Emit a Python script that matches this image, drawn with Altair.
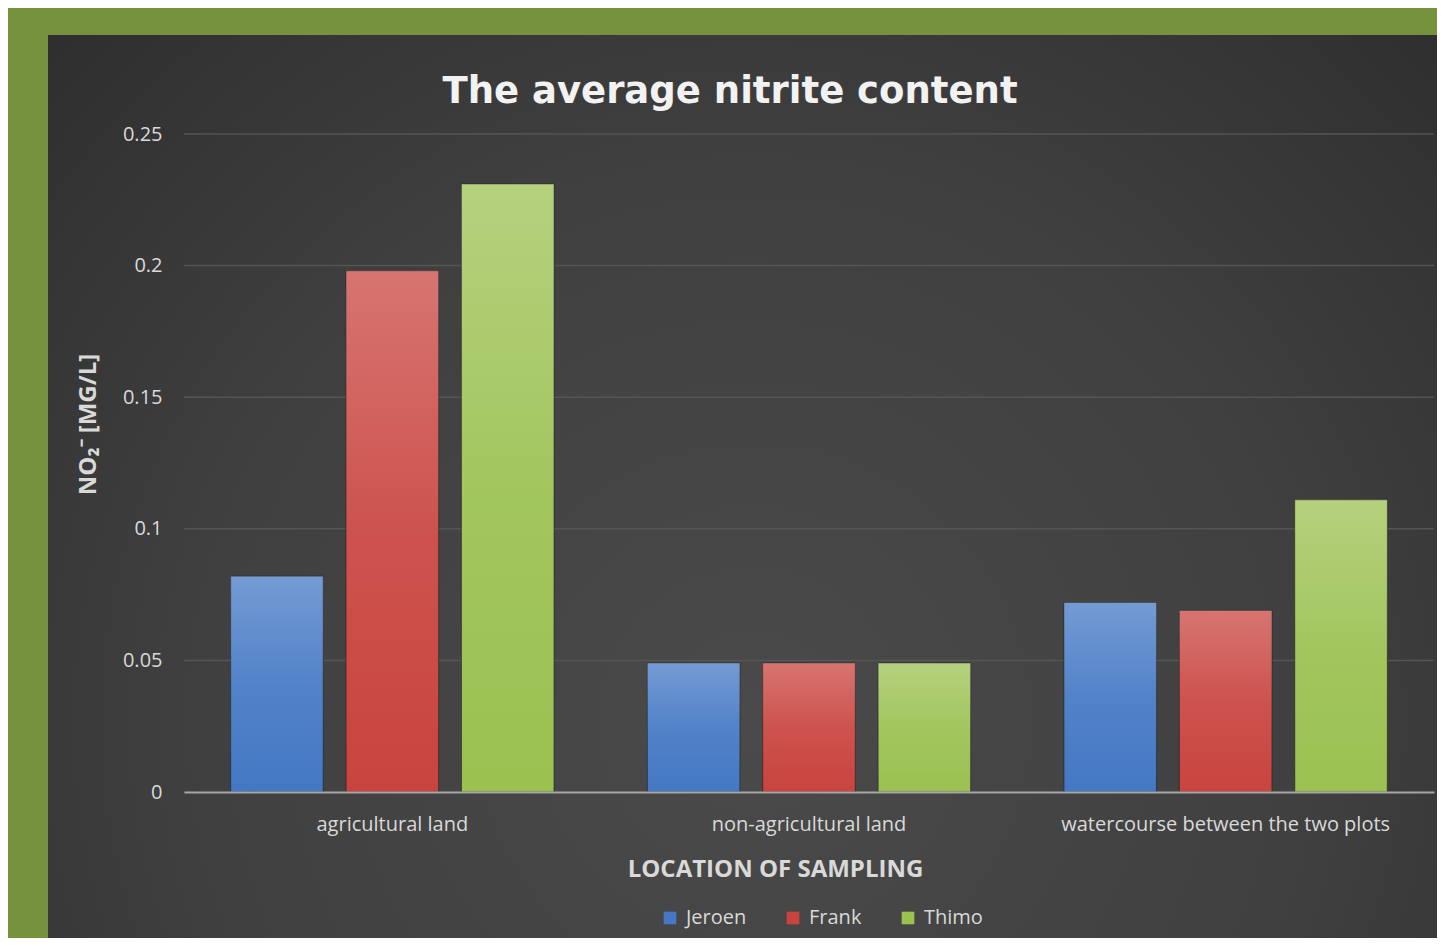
import altair as alt
import pandas as pd

# ---- data ----
categories = ["agricultural land", "non-agricultural land", "watercourse between the two plots"]
series = ["Jeroen", "Frank", "Thimo"]
jeroen = [0.082, 0.049, 0.072]
frank = [0.198, 0.049, 0.069]
thimo = [0.231, 0.049, 0.111]
y_ticks = [0, 0.05, 0.1, 0.15, 0.2, 0.25]
grid_ticks = [0.05, 0.1, 0.15, 0.2, 0.25]
colors = ["#4478c4", "#c9443f", "#9bc151"]

rows = []
for i, c in enumerate(categories):
    for s, vals in zip(series, [jeroen, frank, thimo]):
        rows.append({"location": c, "person": s, "value": vals[i]})
df = pd.DataFrame(rows)
grid_df = pd.DataFrame({"value": grid_ticks})

W, H = 1250, 658
PAD = {"left": 176, "top": 126, "right": 3, "bottom": 146}

LABEL = "#d9d9d9"
FONT = "Open Sans"

y_enc = alt.Y(
    "value:Q",
    scale=alt.Scale(domain=[0, 0.25], nice=False),
    axis=alt.Axis(
        values=y_ticks, format="~g", grid=False, ticks=False, domain=False,
        labelFont=FONT, labelFontSize=20, labelColor=LABEL, labelPadding=22,
        title="NO₂⁻ [MG/L]", titleFont=FONT, titleFontSize=24, titleFontWeight="bold",
        titleColor=LABEL, titleAngle=-90, titleX=-96, titleY=290,
        titleAlign="center", titleBaseline="middle", zindex=1,
    ),
)
x_enc = alt.X(
    "location:N", sort=categories,
    scale=alt.Scale(paddingInner=0.224, paddingOuter=0.112),
    axis=alt.Axis(
        labelAngle=0, ticks=False, grid=False, domainColor="#a6a6a6", domainWidth=2,
        labelFont=FONT, labelFontSize=20, labelColor=LABEL, labelPadding=22, labelLimit=600,
        title="LOCATION OF SAMPLING", titleFont=FONT, titleFontSize=24,
        titleFontWeight="bold", titleColor=LABEL, titleX=591, titleY=77,
        titleAlign="center", titleBaseline="middle", zindex=1,
    ),
)
xo_enc = alt.XOffset("person:N", sort=series, scale=alt.Scale(paddingInner=0.198, paddingOuter=0))

panel = alt.Chart(alt.Data(values=[{}])).mark_rect(
    color={
        "gradient": "radial", "x1": 0.5, "y1": 0.66, "r1": 0,
        "x2": 0.5, "y2": 0.66, "r2": 0.78,
        "stops": [
            {"offset": 0, "color": "#4a4a4a"},
            {"offset": 0.5, "color": "#404040"},
            {"offset": 1, "color": "#2a2a2a"},
        ],
    }
).encode(
    x=alt.value(-136), x2=alt.value(W + PAD["right"] + 20),
    y=alt.value(-99), y2=alt.value(H + PAD["bottom"] + 20),
)

grid = alt.Chart(grid_df).mark_rule(color="#555555", strokeWidth=1.5).encode(
    y=y_enc, x=alt.value(0), x2=alt.value(W)
)

bars = alt.Chart(df).mark_bar(stroke="#1e1e1e", strokeWidth=1, strokeOpacity=0.6).encode(
    x=x_enc, xOffset=xo_enc, y=y_enc,
    color=alt.Color(
        "person:N", sort=series,
        scale=alt.Scale(domain=series, range=colors),
        legend=alt.Legend(
            orient="none", legendX=476, legendY=774, direction="horizontal", title=None,
            symbolType="square", symbolSize=160, symbolStrokeWidth=0, symbolOpacity=1,
            labelFont=FONT, labelFontSize=20, labelColor=LABEL, labelOffset=6,
            columnPadding=36,
        ),
    ),
)

shine = alt.Chart(df).mark_bar(
    color={
        "gradient": "linear", "x1": 0, "y1": 0, "x2": 0, "y2": 1,
        "stops": [
            {"offset": 0, "color": "rgba(255,255,255,0.26)"},
            {"offset": 0.5, "color": "rgba(255,255,255,0.08)"},
            {"offset": 1, "color": "rgba(255,255,255,0.0)"},
        ],
    }
).encode(x=x_enc, xOffset=xo_enc, y=y_enc)

chart = alt.layer(panel, grid, bars, shine).properties(
    width=W, height=H,
    padding=PAD,
    autosize=alt.AutoSizeParams(type="none"),
    background="#76923C",
    title=alt.Title(
        "The average nitrite content", font="DejaVu Sans", fontWeight="bold",
        fontSize=37, color="#f2f2f2", anchor="middle", dx=-79, offset=0, dy=76,
    ),
).configure_view(stroke=None)

chart.save("out.html", embed_options={"renderer": "svg", "actions": False})
